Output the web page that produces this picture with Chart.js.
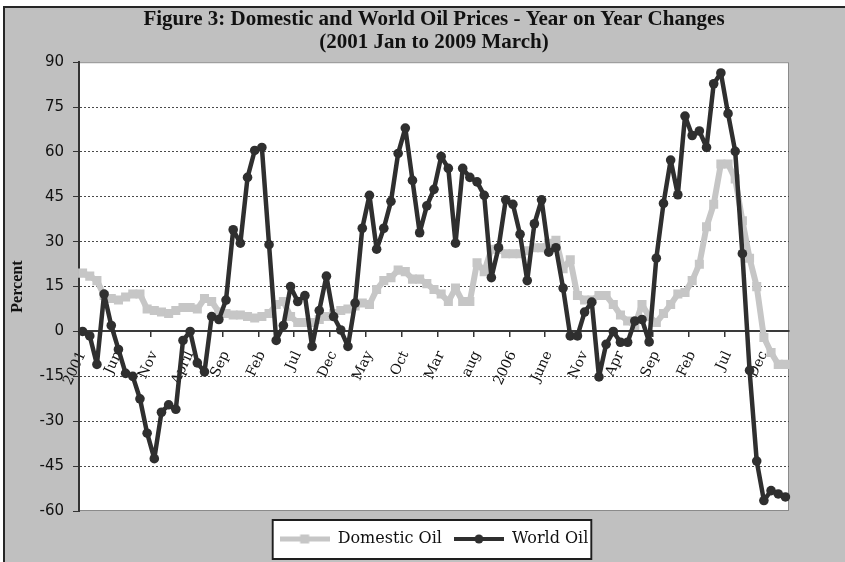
<!DOCTYPE html>
<html>
<head>
<meta charset="utf-8">
<title>Domestic and World Oil Prices</title>
<script src="https://cdn.jsdelivr.net/npm/chart.js@4.4.1/dist/chart.umd.min.js"></script>
<style>
	html, body { margin: 0; padding: 0; background: #fff; overflow: hidden; width: 845px; height: 562px; }
	#frame {
		position: absolute;
		left: 3px;
		top: 6px;
		width: 860px;
		height: 570px;
		background: #c0c0c0;
		border-left: 2px solid #262626;
		border-top: 2px solid #262626;
	}
	canvas { display: block; }
</style>
</head>
<body>
<div id="frame"><canvas id="oilChart" width="840" height="554"></canvas></div>
<script>
"use strict";

// Monthly categories, January 2001 to March 2009
const months = [
	"Jan 01", "Feb 01", "Mar 01", "Apr 01", "May 01", "Jun 01", "Jul 01", "Aug 01", "Sep 01", "Oct 01", "Nov 01", "Dec 01",
	"Jan 02", "Feb 02", "Mar 02", "Apr 02", "May 02", "Jun 02", "Jul 02", "Aug 02", "Sep 02", "Oct 02", "Nov 02", "Dec 02",
	"Jan 03", "Feb 03", "Mar 03", "Apr 03", "May 03", "Jun 03", "Jul 03", "Aug 03", "Sep 03", "Oct 03", "Nov 03", "Dec 03",
	"Jan 04", "Feb 04", "Mar 04", "Apr 04", "May 04", "Jun 04", "Jul 04", "Aug 04", "Sep 04", "Oct 04", "Nov 04", "Dec 04",
	"Jan 05", "Feb 05", "Mar 05", "Apr 05", "May 05", "Jun 05", "Jul 05", "Aug 05", "Sep 05", "Oct 05", "Nov 05", "Dec 05",
	"Jan 06", "Feb 06", "Mar 06", "Apr 06", "May 06", "Jun 06", "Jul 06", "Aug 06", "Sep 06", "Oct 06", "Nov 06", "Dec 06",
	"Jan 07", "Feb 07", "Mar 07", "Apr 07", "May 07", "Jun 07", "Jul 07", "Aug 07", "Sep 07", "Oct 07", "Nov 07", "Dec 07",
	"Jan 08", "Feb 08", "Mar 08", "Apr 08", "May 08", "Jun 08", "Jul 08", "Aug 08", "Sep 08", "Oct 08", "Nov 08", "Dec 08",
	"Jan 09", "Feb 09", "Mar 09",
];

// Axis text, one label every five months
const tickLabels = ["2001", "Jun", "Nov", "April", "Sep", "Feb", "Jul", "Dec", "May", "Oct", "Mar", "aug", "2006", "June", "Nov", "Apr", "Sep", "Feb", "Jul", "Dec"];

// Year on year change, percent
const domesticOil = [
	19.5, 18.5, 17, 12, 11, 10.5, 11.5, 12.5, 12.5, 7.5,
	7, 6.5, 6, 7, 8, 8, 7.5, 11, 10, 6.5,
	6, 5.5, 5.5, 5, 4.5, 5, 6, 9, 10, 5,
	3, 3, 3, 4, 5, 6, 7, 7.5, 8.5, 9.5,
	9, 14, 17, 18, 20.5, 20, 17.5, 17.5, 16, 14,
	12.5, 10, 14.5, 10, 10, 23, 20, 27.5, 27.5, 26,
	26, 26, 27, 28, 28, 29.5, 30.5, 21, 24, 12,
	10.5, 10.5, 12, 12, 9, 5.5, 3.5, 2, 9, 5,
	3, 6, 9, 12.5, 13, 17, 22.5, 35, 42.5, 56,
	56, 51, 37, 24.5, 15, -2, -7, -11, -11,
];

const worldOil = [
	0, -1.5, -11, 12.5, 2, -6, -14, -15, -22.5, -34,
	-42.5, -27, -24.5, -26, -3, 0, -10.5, -13.5, 5, 4,
	10.5, 34, 29.5, 51.5, 60.5, 61.5, 29, -3, 2, 15,
	10, 12, -5, 7, 18.5, 5, 0.5, -5, 9.5, 34.5,
	45.5, 27.5, 34.5, 43.5, 59.5, 68, 50.5, 33, 42, 47.5,
	58.5, 54.5, 29.5, 54.5, 51.5, 50, 45.5, 18, 28, 44,
	42.5, 32.5, 17, 36, 44, 26.5, 28, 14.5, -1.5, -1.5,
	6.5, 9.8, -15.2, -4.3, 0, -3.6, -3.6, 3.5, 4, -3.5,
	24.5, 42.8, 57.3, 45.7, 72, 65.5, 67, 61.5, 82.8, 86.4,
	72.8, 60.2, 26, -13, -43.3, -56.5, -53.2, -54.3, -55.3,
];

const domesticColor = "#c6c6c6";
const worldColor = "#2f2f2f";

// Legend symbol: a short stretch of line with the series marker in the middle
function legendMarker(color, lineWidth, shape) {
	const c = document.createElement("canvas");
	c.width = 50;
	c.height = 12;
	const g = c.getContext("2d");
	g.strokeStyle = color;
	g.lineWidth = lineWidth;
	g.beginPath();
	g.moveTo(0, 6);
	g.lineTo(50, 6);
	g.stroke();
	g.fillStyle = color;
	if (shape === "rect") {
		g.fillRect(20.5, 1.5, 9, 9);
	} else {
		g.beginPath();
		g.arc(25, 6, 4.5, 0, Math.PI * 2);
		g.fill();
	}
	return c;
}

const markers = [legendMarker(domesticColor, 5, "rect"), legendMarker(worldColor, 4, "circle")];

// White plot panel with a thin border, and a framed box behind the legend
const panelBackground = {
	id: "panelBackground",
	beforeDraw(chart) {
		const { ctx, chartArea: a, legend } = chart;
		ctx.save();
		ctx.fillStyle = "#fff";
		ctx.fillRect(a.left, a.top, a.right - a.left, a.bottom - a.top);
		ctx.strokeStyle = "#8a8a8a";
		ctx.lineWidth = 1;
		ctx.strokeRect(a.left + 0.5, a.top + 0.5, a.right - a.left - 1, a.bottom - a.top - 1);

		const boxes = legend && legend.legendHitBoxes;
		if (boxes && boxes.length) {
			const first = boxes[0];
			const last = boxes[boxes.length - 1];
			const x0 = first.left - 8;
			const x1 = last.left + last.width + 4;
			const y0 = first.top - 12;
			const y1 = first.top + 29;
			ctx.fillStyle = "#fff";
			ctx.fillRect(x0, y0, x1 - x0, y1 - y0);
			ctx.strokeStyle = "#1e1e1e";
			ctx.lineWidth = 2;
			ctx.strokeRect(x0 + 1, y0 + 1, x1 - x0 - 2, y1 - y0 - 2);
		}
		ctx.restore();
	},
};

function generateLineChart() {
	const ctx = document.getElementById("oilChart");

	new Chart(ctx, {
		type: "line",
		data: {
			labels: months,
			datasets: [
				{
					label: "Domestic Oil",
					data: domesticOil,
					borderColor: domesticColor,
					backgroundColor: domesticColor,
					borderWidth: 6,
					borderJoinStyle: "round",
					pointStyle: "rect",
					pointRadius: 6.4,
					pointBorderWidth: 0,
					tension: 0,
					order: 2,
				},
				{
					label: "World Oil",
					data: worldOil,
					borderColor: worldColor,
					backgroundColor: worldColor,
					borderWidth: 4.5,
					borderJoinStyle: "round",
					pointStyle: "circle",
					pointRadius: 4.8,
					pointBorderWidth: 0,
					tension: 0,
					order: 1,
				},
			],
		},
		options: {
			responsive: false,
			animation: false,
			layout: {
				padding: { left: 0, right: 56, top: 0, bottom: 5 },
			},
			scales: {
				x: {
					position: { y: 0 },
					offset: true,
					grid: {
						offset: true,
						drawOnChartArea: false,
						tickLength: 5,
						lineWidth: 1.5,
						color: (c) => (c.index % 5 === 0 ? "#333" : "rgba(0,0,0,0)"),
					},
					border: { display: true, color: "#3a3a3a", width: 2 },
					ticks: {
						autoSkip: false,
						minRotation: 65,
						maxRotation: 65,
						padding: 12,
						color: "#111",
						font: { family: "DejaVu Serif", size: 14 },
						callback: (value, i) => (i % 5 === 0 ? tickLabels[i / 5] : ""),
					},
				},
				y: {
					min: -60,
					max: 90,
					ticks: {
						stepSize: 15,
						padding: 9,
						color: "#111",
						font: { family: "DejaVu Sans", size: 15 },
					},
					grid: {
						lineWidth: 1,
						tickLength: 6,
						tickColor: "#333",
						color: (c) => {
							const v = c.tick ? c.tick.value : null;
							return v === 0 || v === 90 || v === -60 ? "rgba(0,0,0,0)" : "#4a4a4a";
						},
					},
					border: { display: true, color: "#333", width: 2, dash: [2, 2] },
					title: {
						display: true,
						text: "Percent",
						color: "#111",
						font: { family: "Liberation Serif", size: 16, weight: "bold" },
						padding: { top: 3, bottom: 0 },
					},
					afterFit(scale) {
						scale.width = 74;
					},
				},
			},
			plugins: {
				title: {
					display: true,
					fullSize: false,
					text: ["Figure 3: Domestic and World Oil Prices - Year on Year Changes", "(2001 Jan to 2009 March)"],
					color: "#111",
					font: { family: "Liberation Serif", size: 21, weight: "bold", lineHeight: 1.1 },
					padding: { top: 0, bottom: 8 },
				},
				legend: {
					position: "bottom",
					fullSize: false,
					title: { display: true, text: " ", font: { size: 8, lineHeight: 1 }, padding: 0 },
					labels: {
						usePointStyle: true,
						pointStyleWidth: 50,
						padding: 12,
						color: "#111",
						font: { family: "DejaVu Serif", size: 16 },
						sort: (a, b) => a.datasetIndex - b.datasetIndex,
						generateLabels(chart) {
							const items = Chart.defaults.plugins.legend.labels.generateLabels(chart);
							items.forEach((item) => {
								item.pointStyle = markers[item.datasetIndex];
							});
							return items;
						},
					},
				},
				tooltip: { enabled: false },
			},
		},
		plugins: [panelBackground],
	});
}

generateLineChart();
</script>
</body>
</html>
